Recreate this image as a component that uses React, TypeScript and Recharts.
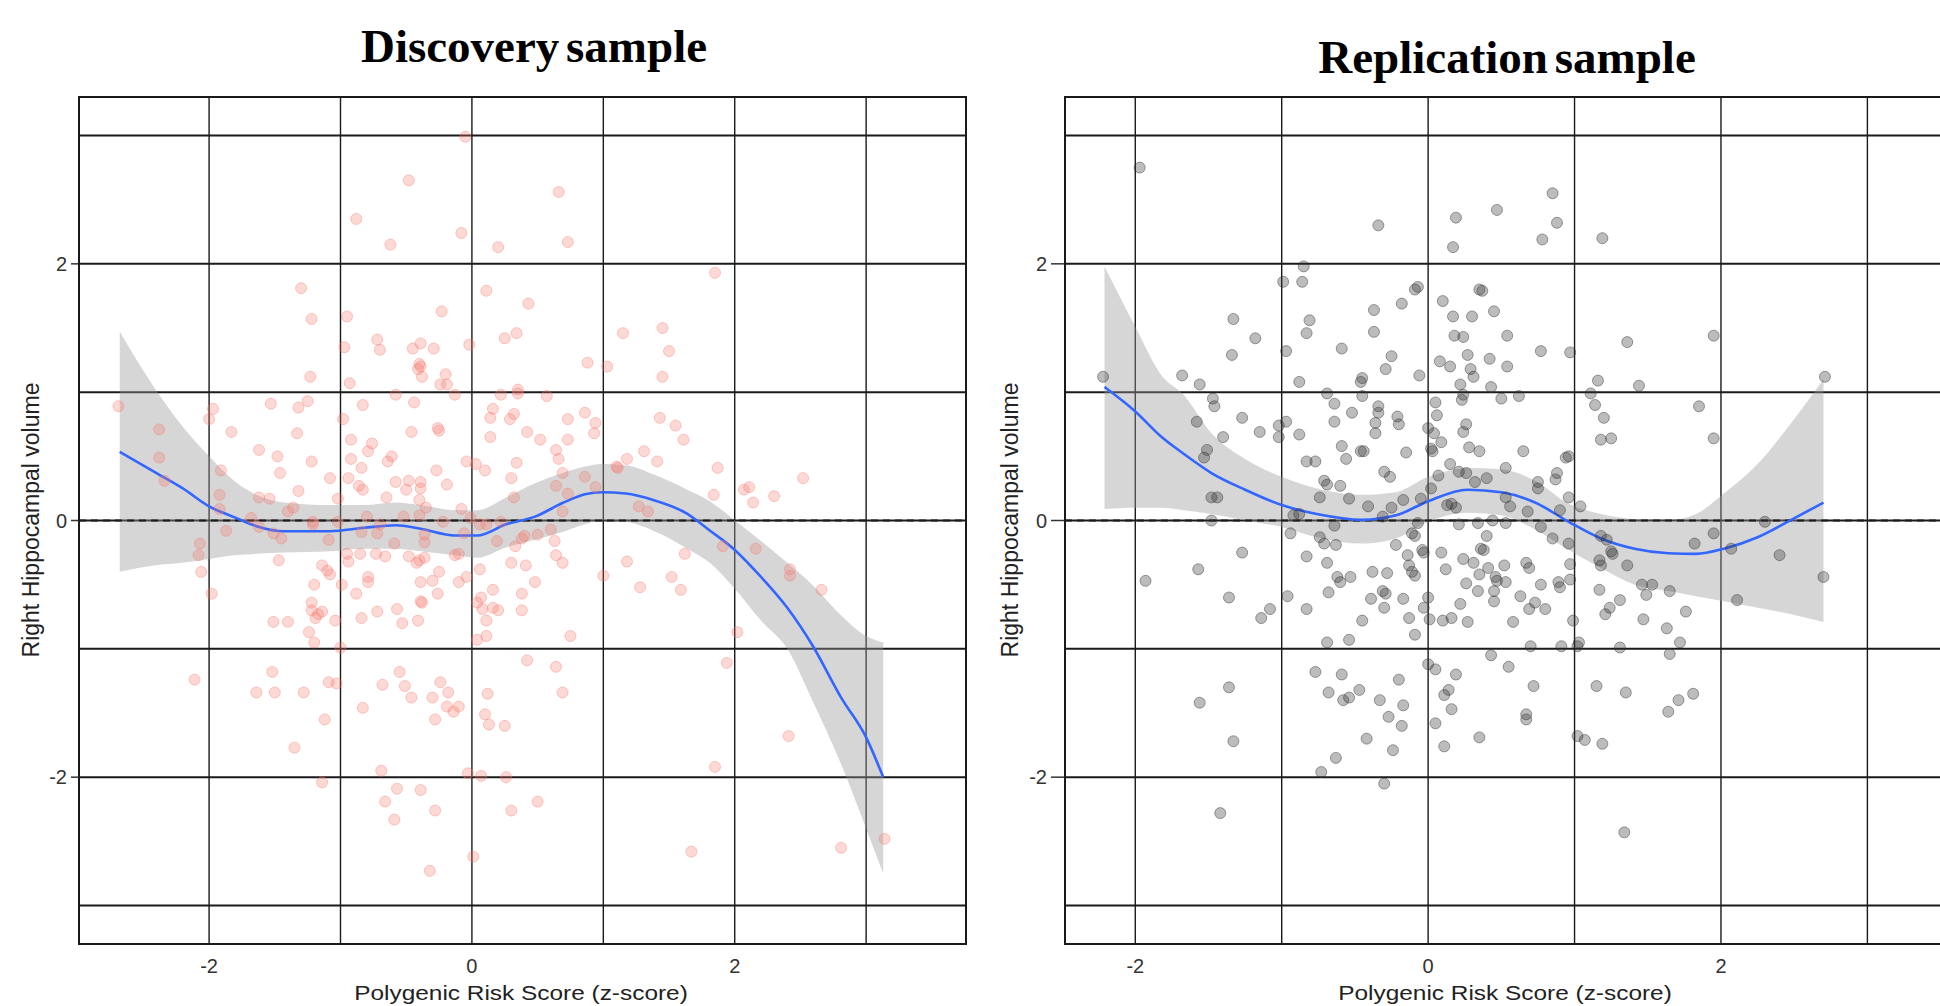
import { ComposedChart, XAxis, YAxis, CartesianGrid, Area, Line, Scatter, ReferenceLine } from 'recharts';

// axis ticks and grid positions
const xTicks = [-2, 0, 2];
const yTicks = [-2, 0, 2];
const gridX = [-2, -1, 0, 1, 2, 3];
const gridY = [-3, -2, -1, 0, 1, 2, 3];

// Discovery sample: raw points [PRS z-score, right hippocampal volume]
const discPoints: [number, number][] = [
  [-0.05, 2.99], [-0.48, 2.65], [0.66, 2.56], [-0.88, 2.35], [-0.08, 2.24], [-0.62, 2.15], [0.2, 2.13], [0.73, 2.17],
  [1.85, 1.93], [-1.3, 1.81], [0.11, 1.79], [0.43, 1.69], [-1.22, 1.57], [-0.95, 1.59], [-0.23, 1.63], [1.15, 1.46],
  [1.45, 1.5], [0.34, 1.46], [0.25, 1.42], [-0.72, 1.41], [-0.97, 1.35], [-0.7, 1.33], [-0.45, 1.34], [-0.39, 1.38],
  [-0.29, 1.34], [-0.02, 1.37], [1.5, 1.32], [0.88, 1.23], [1.03, 1.2], [-0.4, 1.22], [-0.41, 1.18], [-0.39, 1.2],
  [-0.38, 1.12], [-0.2, 1.14], [-1.23, 1.12], [1.45, 1.12], [-0.93, 1.07], [-0.24, 1.06], [-0.19, 1.06], [0.35, 1.02],
  [-2.69, 0.89], [-1.53, 0.91], [-1.32, 0.88], [-1.25, 0.93], [-0.83, 0.9], [-0.58, 0.98], [-0.44, 0.92], [-0.13, 0.98],
  [0.22, 0.98], [0.35, 0.99], [0.57, 0.97], [-1.97, 0.87], [-2.0, 0.79], [-2.38, 0.71], [-1.83, 0.69], [-1.33, 0.68],
  [-0.98, 0.79], [-0.26, 0.72], [-0.25, 0.7], [-0.46, 0.69], [0.16, 0.87], [0.14, 0.8], [0.29, 0.79], [0.32, 0.83],
  [0.73, 0.79], [0.86, 0.84], [0.94, 0.76], [0.93, 0.68], [1.43, 0.8], [1.55, 0.74], [1.61, 0.63], [0.42, 0.69],
  [0.52, 0.63], [0.73, 0.63], [0.14, 0.65], [-0.92, 0.63], [-0.76, 0.6], [-0.79, 0.54], [-2.38, 0.49], [-1.62, 0.55],
  [-1.48, 0.5], [-1.22, 0.46], [-0.92, 0.48], [-0.84, 0.41], [-0.64, 0.46], [-0.61, 0.5], [0.64, 0.55], [0.66, 0.48],
  [1.31, 0.54], [1.18, 0.48], [1.41, 0.46], [-0.04, 0.46], [0.03, 0.44], [0.34, 0.45], [0.1, 0.39], [1.87, 0.41],
  [2.52, 0.33], [-1.91, 0.39], [-1.46, 0.37], [-2.34, 0.31], [-1.08, 0.33], [-0.94, 0.33], [-0.27, 0.39], [-0.48, 0.31],
  [-0.58, 0.3], [-0.39, 0.3], [-0.5, 0.24], [-0.39, 0.25], [-0.86, 0.27], [-0.83, 0.24], [-0.19, 0.28], [0.3, 0.33],
  [0.69, 0.37], [0.86, 0.34], [0.64, 0.27], [1.1, 0.42], [1.11, 0.41], [2.07, 0.24], [2.11, 0.26], [2.14, 0.14],
  [2.3, 0.19], [1.84, 0.2], [-1.32, 0.23], [-1.92, 0.2], [-1.62, 0.18], [-1.54, 0.17], [-1.02, 0.17], [-0.65, 0.18],
  [-0.4, 0.16], [0.32, 0.18], [0.73, 0.21], [0.94, 0.26], [-1.36, 0.1], [-1.4, 0.07], [1.27, 0.11], [1.34, 0.07],
  [-0.35, 0.1], [-0.08, 0.09], [0.69, 0.07], [-1.92, 0.09], [-1.68, 0.02], [-1.21, -0.01], [-1.21, -0.03], [-0.8, 0.03],
  [-0.52, 0.03], [-0.4, 0.04], [-1.02, -0.01], [-0.7, -0.03], [-0.22, -0.01], [-0.01, 0.02], [0.06, -0.03], [0.11, -0.03],
  [0.22, -0.01], [-1.62, -0.05], [-1.87, -0.08], [-1.51, -0.1], [-1.45, -0.14], [-1.09, -0.15], [-0.72, -0.1], [-0.36, -0.11],
  [-0.36, -0.17], [-0.59, -0.18], [-0.84, -0.09], [-0.06, -0.1], [0.19, -0.16], [0.4, -0.12], [0.38, -0.14], [0.5, -0.11],
  [0.6, -0.07], [0.63, -0.16], [-2.07, -0.18], [0.33, -0.2], [-2.08, -0.27], [-2.06, -0.4], [-1.47, -0.31], [-0.95, -0.26],
  [-0.85, -0.26], [-0.94, -0.32], [-0.73, -0.26], [-0.66, -0.28], [-0.48, -0.28], [-0.4, -0.31], [-0.36, -0.29], [-0.42, -0.33],
  [-0.13, -0.27], [-0.1, -0.26], [0.3, -0.33], [0.41, -0.35], [0.64, -0.27], [0.69, -0.33], [1.18, -0.32], [1.62, -0.26],
  [2.16, -0.22], [1.91, -0.2], [-1.14, -0.35], [-1.1, -0.39], [-1.08, -0.42], [-0.25, -0.4], [-0.3, -0.47], [-0.39, -0.48],
  [0.06, -0.38], [-0.04, -0.44], [-0.1, -0.48], [1.0, -0.43], [2.42, -0.38], [2.42, -0.43], [-1.2, -0.5], [-0.99, -0.5],
  [-0.79, -0.44], [-0.79, -0.48], [0.48, -0.48], [1.52, -0.44], [1.59, -0.54], [1.28, -0.52], [2.66, -0.54], [-1.98, -0.57],
  [-0.88, -0.57], [-0.26, -0.57], [0.16, -0.54], [0.38, -0.57], [0.07, -0.6], [0.04, -0.64], [-0.39, -0.63], [-0.38, -0.64],
  [-1.22, -0.64], [-1.22, -0.7], [-1.17, -0.73], [-1.14, -0.71], [-1.19, -0.76], [-0.72, -0.71], [-0.57, -0.69], [-0.84, -0.76],
  [-0.53, -0.8], [-0.41, -0.78], [0.11, -0.78], [0.2, -0.7], [0.16, -0.68], [0.08, -0.69], [0.38, -0.7], [-1.51, -0.79],
  [-1.4, -0.79], [-1.04, -0.78], [-1.24, -0.87], [0.04, -0.93], [0.11, -0.9], [0.75, -0.9], [2.02, -0.87], [-1.2, -0.95],
  [-1.0, -0.99], [-2.11, -1.24], [-1.52, -1.18], [-1.64, -1.34], [-1.5, -1.34], [-1.28, -1.34], [-1.09, -1.26], [-1.03, -1.27],
  [-0.55, -1.18], [-0.68, -1.28], [-0.51, -1.29], [-0.46, -1.38], [-0.24, -1.26], [-0.18, -1.34], [-0.3, -1.38], [-0.19, -1.45],
  [-0.14, -1.49], [-0.1, -1.45], [0.12, -1.35], [0.42, -1.09], [0.64, -1.14], [0.69, -1.34], [1.94, -1.11], [-0.83, -1.46],
  [-1.12, -1.55], [-0.28, -1.55], [0.1, -1.51], [0.13, -1.59], [0.25, -1.6], [-1.35, -1.77], [2.41, -1.68], [-0.69, -1.95],
  [-0.03, -1.97], [0.07, -1.99], [0.26, -2.0], [1.85, -1.92], [-1.14, -2.04], [-0.57, -2.09], [-0.39, -2.1], [-0.66, -2.19],
  [0.5, -2.19], [-0.28, -2.26], [0.3, -2.26], [-0.59, -2.33], [0.01, -2.62], [1.67, -2.58], [2.81, -2.55], [3.14, -2.48],
  [-0.32, -2.73],
];

// Discovery sample: loess fit and its confidence band
const discFitX = [-2.68, -2.42, -2.2, -2.0, -1.81, -1.64, -1.43, -1.08, -0.82, -0.58, -0.39, -0.13, 0.04, 0.26, 0.48, 0.69, 0.86, 0.99, 1.17, 1.38, 1.64, 1.81, 1.99, 2.2, 2.4, 2.59, 2.81, 3.0, 3.13];
const discFit = [0.535, 0.38, 0.25, 0.11, 0.026, -0.044, -0.084, -0.084, -0.057, -0.037, -0.065, -0.117, -0.117, -0.03, 0.03, 0.136, 0.204, 0.22, 0.21, 0.16, 0.052, -0.078, -0.22, -0.44, -0.68, -0.97, -1.38, -1.69, -2.0];
const discHi = [1.47, 1.04, 0.73, 0.5, 0.31, 0.2, 0.14, 0.12, 0.12, 0.14, 0.12, 0.08, 0.08, 0.18, 0.29, 0.37, 0.42, 0.44, 0.43, 0.36, 0.24, 0.15, 0.01, -0.16, -0.33, -0.5, -0.74, -0.9, -0.95];
const discLo = [-0.4, -0.35, -0.33, -0.3, -0.27, -0.26, -0.25, -0.24, -0.22, -0.22, -0.24, -0.27, -0.29, -0.21, -0.15, -0.09, -0.03, 0.0, -0.01, -0.08, -0.22, -0.33, -0.52, -0.78, -1.0, -1.4, -1.9, -2.4, -2.75];

// Replication sample: raw points
const repPoints: [number, number][] = [
  [-1.97, 2.75], [0.85, 2.55], [0.47, 2.42], [0.19, 2.36], [0.88, 2.32], [-0.34, 2.3], [0.78, 2.19], [1.19, 2.2],
  [0.17, 2.13], [-0.85, 1.98], [-0.99, 1.86], [-0.86, 1.86], [-0.07, 1.82], [-0.09, 1.8], [0.35, 1.8], [0.37, 1.79],
  [0.1, 1.71], [-0.18, 1.69], [-0.37, 1.64], [0.17, 1.59], [0.3, 1.59], [0.45, 1.63], [-1.33, 1.57], [-0.81, 1.56],
  [-0.83, 1.46], [-0.37, 1.47], [-1.18, 1.42], [0.18, 1.44], [0.24, 1.43], [0.54, 1.44], [1.36, 1.39], [1.95, 1.44],
  [-1.34, 1.29], [-0.97, 1.32], [-0.59, 1.34], [-0.25, 1.28], [0.77, 1.32], [0.97, 1.31], [0.27, 1.29], [0.42, 1.26],
  [0.08, 1.24], [0.15, 1.2], [0.29, 1.18], [0.54, 1.2], [-0.29, 1.18], [-0.06, 1.13], [-0.45, 1.11], [-0.46, 1.08],
  [0.31, 1.12], [-1.68, 1.13], [-1.56, 1.06], [-2.22, 1.12], [-0.88, 1.08], [0.22, 1.06], [1.16, 1.09], [1.44, 1.05],
  [2.71, 1.12], [0.43, 1.04], [-0.69, 0.99], [-0.45, 0.97], [0.23, 0.94], [0.24, 0.98], [0.05, 0.92], [0.5, 0.95],
  [0.62, 0.97], [1.11, 0.99], [1.14, 0.9], [-1.47, 0.95], [-1.46, 0.89], [1.85, 0.89], [-1.27, 0.8], [-0.64, 0.91],
  [-0.52, 0.84], [-0.34, 0.89], [-0.34, 0.84], [-0.64, 0.77], [-0.36, 0.76], [-0.21, 0.81], [-0.2, 0.75], [0.06, 0.82],
  [0.26, 0.75], [0.24, 0.69], [0.0, 0.72], [1.2, 0.8], [-1.58, 0.77], [-1.02, 0.74], [-1.02, 0.65], [-0.97, 0.77],
  [-1.15, 0.69], [-0.88, 0.67], [-1.4, 0.65], [-0.36, 0.68], [0.04, 0.68], [0.09, 0.61], [1.18, 0.63], [1.25, 0.64],
  [1.95, 0.64], [-0.59, 0.58], [-0.46, 0.54], [-0.44, 0.54], [-0.56, 0.48], [-0.15, 0.53], [0.02, 0.56], [0.03, 0.54],
  [0.28, 0.57], [0.35, 0.54], [0.65, 0.54], [0.94, 0.49], [0.96, 0.5], [-1.51, 0.55], [-1.53, 0.49], [-0.83, 0.46],
  [-0.77, 0.46], [0.15, 0.44], [0.53, 0.41], [-0.3, 0.38], [-0.26, 0.34], [0.21, 0.38], [0.26, 0.37], [0.07, 0.35],
  [0.4, 0.33], [0.32, 0.3], [0.88, 0.37], [0.87, 0.32], [-0.71, 0.31], [-0.69, 0.28], [-0.6, 0.27], [0.02, 0.25],
  [0.75, 0.3], [0.75, 0.25], [-1.48, 0.18], [-1.44, 0.18], [-0.74, 0.18], [-0.54, 0.17], [-0.17, 0.16], [-0.05, 0.17],
  [0.16, 0.13], [0.13, 0.12], [0.19, 0.1], [0.53, 0.18], [0.56, 0.11], [0.96, 0.18], [1.04, 0.11], [-0.25, 0.1],
  [-0.41, 0.11], [0.68, 0.07], [0.9, 0.08], [-0.92, 0.04], [-0.88, 0.05], [-1.48, 0.0], [-0.64, -0.04], [-0.31, 0.03],
  [-0.07, -0.02], [0.21, -0.03], [0.34, -0.02], [0.44, 0.0], [0.53, -0.02], [0.77, -0.05], [2.3, -0.01], [-0.94, -0.1],
  [-0.74, -0.13], [-0.71, -0.18], [-0.63, -0.19], [-0.11, -0.1], [-0.09, -0.12], [0.4, -0.12], [0.85, -0.14], [1.18, -0.12],
  [1.22, -0.15], [1.95, -0.1], [1.82, -0.18], [2.07, -0.22], [2.4, -0.27], [0.96, -0.18], [-1.27, -0.25], [-0.83, -0.28],
  [-0.22, -0.19], [-0.14, -0.27], [-0.04, -0.23], [-0.03, -0.25], [0.09, -0.25], [0.24, -0.3], [0.36, -0.22], [0.38, -0.23],
  [1.36, -0.35], [1.17, -0.31], [1.18, -0.35], [1.26, -0.26], [1.25, -0.24], [-1.57, -0.38], [-0.69, -0.33], [-0.13, -0.35],
  [-0.11, -0.4], [-0.09, -0.43], [0.12, -0.38], [0.31, -0.33], [0.41, -0.37], [0.52, -0.35], [0.67, -0.33], [0.69, -0.37],
  [0.97, -0.34], [-1.93, -0.47], [-0.38, -0.4], [-0.28, -0.41], [-0.62, -0.44], [-0.6, -0.48], [-0.53, -0.44], [0.46, -0.44],
  [0.47, -0.47], [0.53, -0.48], [0.77, -0.5], [0.89, -0.48], [0.9, -0.52], [0.97, -0.46], [0.26, -0.49], [0.35, -0.42],
  [2.7, -0.44], [1.46, -0.5], [1.53, -0.5], [1.65, -0.55], [1.17, -0.54], [-1.36, -0.6], [-0.96, -0.59], [-0.68, -0.56],
  [-0.31, -0.55], [-0.29, -0.57], [-0.39, -0.61], [-0.17, -0.61], [0.0, -0.6], [0.34, -0.55], [0.45, -0.55], [0.45, -0.63],
  [0.63, -0.59], [1.49, -0.58], [1.31, -0.62], [2.11, -0.62], [-1.08, -0.69], [-1.14, -0.76], [-0.83, -0.69], [-0.3, -0.68],
  [-0.03, -0.68], [0.22, -0.65], [0.73, -0.64], [0.69, -0.69], [0.8, -0.69], [1.24, -0.68], [1.21, -0.73], [1.76, -0.71],
  [-0.45, -0.78], [-0.13, -0.76], [0.01, -0.77], [0.1, -0.78], [0.16, -0.76], [0.27, -0.79], [0.58, -0.79], [0.99, -0.78],
  [1.47, -0.77], [-0.09, -0.89], [1.63, -0.84], [-0.69, -0.95], [-0.54, -0.93], [0.7, -0.98], [0.91, -0.98], [1.03, -0.95],
  [1.02, -0.98], [1.72, -0.95], [1.31, -0.99], [1.65, -1.04], [0.0, -1.12], [0.05, -1.16], [0.19, -1.2], [0.43, -1.05],
  [0.55, -1.14], [-0.77, -1.18], [-0.59, -1.2], [-0.2, -1.24], [-1.36, -1.3], [-1.56, -1.42], [-0.68, -1.34], [-0.47, -1.32],
  [-0.58, -1.4], [-0.54, -1.38], [-0.33, -1.4], [-0.17, -1.44], [0.14, -1.32], [0.11, -1.36], [0.16, -1.47], [-0.27, -1.53],
  [-0.18, -1.6], [0.05, -1.58], [0.72, -1.29], [0.67, -1.51], [0.67, -1.55], [1.15, -1.29], [1.35, -1.34], [1.81, -1.35],
  [1.71, -1.4], [1.64, -1.49], [-1.33, -1.72], [-0.42, -1.7], [0.35, -1.69], [-0.24, -1.79], [0.11, -1.76], [1.02, -1.68],
  [1.07, -1.71], [1.19, -1.74], [-0.63, -1.85], [-0.73, -1.96], [-0.3, -2.05], [-1.42, -2.28], [1.34, -2.43],
];

// Replication sample: loess fit and its confidence band
const repFitX = [-2.21, -2.0, -1.82, -1.67, -1.48, -1.25, -1.0, -0.76, -0.45, -0.22, 0.0, 0.27, 0.5, 0.73, 0.96, 1.18, 1.41, 1.64, 1.83, 2.02, 2.25, 2.48, 2.7];
const repFit = [1.04, 0.85, 0.65, 0.52, 0.37, 0.24, 0.12, 0.05, 0.005, 0.04, 0.15, 0.24, 0.22, 0.14, -0.01, -0.14, -0.22, -0.255, -0.26, -0.22, -0.13, 0.005, 0.14];
const repHi = [1.98, 1.51, 1.13, 0.98, 0.68, 0.48, 0.34, 0.25, 0.2, 0.22, 0.34, 0.41, 0.4, 0.31, 0.13, 0.05, 0.01, 0.0, 0.05, 0.21, 0.44, 0.76, 1.1];
const repLo = [0.09, 0.1, 0.1, 0.08, 0.05, 0.0, -0.05, -0.13, -0.18, -0.14, -0.01, 0.06, 0.04, -0.07, -0.23, -0.37, -0.5, -0.55, -0.59, -0.63, -0.68, -0.73, -0.79];

const sans = '"Liberation Sans", Arial, sans-serif';
const tickStyle = { fontSize: 20, fill: '#333', fontFamily: sans };

function Panel(props: any) {
  const { width, yAxisWidth, yTickSize, xDomain, points, fitX, fit, lo, hi, dot } = props;
  const table = fitX.map((x: number, i: number) => ({ x, fit: fit[i], band: [lo[i], hi[i]] }));
  const pts = points.map(([x, y]: [number, number]) => ({ x, y }));
  return (
    <ComposedChart width={width} height={1006} data={table} margin={{ top: 97, right: 14, bottom: 0, left: 0 }}>
      <CartesianGrid horizontal={false} verticalValues={gridX} stroke="#1a1a1a" strokeWidth={1.4} />
      <CartesianGrid vertical={false} horizontalValues={gridY} stroke="#1a1a1a" strokeWidth={2} />
      <XAxis type="number" dataKey="x" domain={xDomain} ticks={xTicks} interval={0} allowDataOverflow
        axisLine={false} tickLine={false} tickMargin={9} height={62} tick={tickStyle} />
      <YAxis type="number" domain={[-3.3, 3.3]} ticks={yTicks} interval={0} allowDataOverflow
        axisLine={false} tickSize={yTickSize} tickMargin={4} width={yAxisWidth} tick={tickStyle}
        tickLine={{ stroke: '#333', strokeWidth: 1.5 }} />
      <Area type="monotone" dataKey="band" stroke="none" fill="#999999" fillOpacity={0.4} isAnimationActive={false} />
      <Scatter data={pts} dataKey="y" isAnimationActive={false}
        shape={(p: any) => (
          <circle cx={p.cx} cy={p.cy} r={5.5} fill={dot.color} fillOpacity={dot.fill}
            stroke={dot.color} strokeOpacity={dot.stroke} strokeWidth={1} />
        )} />
      <ReferenceLine y={0} stroke="#1a1a1a" strokeWidth={2.2} strokeDasharray="7 5" />
      <Line type="monotone" dataKey="fit" stroke="#3366FF" strokeWidth={2.6} dot={false} isAnimationActive={false} />
    </ComposedChart>
  );
}

const abs = (s: any) => ({ position: 'absolute' as const, ...s });

export default function App() {
  const title = { fontFamily: '"Liberation Serif", "Times New Roman", serif', fontWeight: 700, fontSize: 47, lineHeight: '47px', whiteSpace: 'nowrap' as const, wordSpacing: '-5px', color: '#000' };
  const xTitle = { fontFamily: sans, fontSize: 20, lineHeight: '20px', color: '#222', whiteSpace: 'nowrap' as const };
  const yTitle = { fontFamily: sans, fontSize: 23, lineHeight: '23px', color: '#222', whiteSpace: 'nowrap' as const };
  return (
    <div style={abs({ left: 0, top: 0, width: 1940, height: 1006, overflow: 'hidden', background: '#fff' })}>
      <div style={abs({ left: 0, top: 0 })}>
        <Panel width={980} yAxisWidth={79} yTickSize={8} xDomain={[-2.99, 3.76]} points={discPoints}
          fitX={discFitX} fit={discFit} lo={discLo} hi={discHi}
          dot={{ color: '#F8766D', fill: 0.28, stroke: 0.38 }} />
      </div>
      <div style={abs({ left: 980, top: 0 })}>
        <Panel width={979} yAxisWidth={85} yTickSize={14} xDomain={[-2.48, 3.53]} points={repPoints}
          fitX={repFitX} fit={repFit} lo={repLo} hi={repHi}
          dot={{ color: '#333333', fill: 0.33, stroke: 0.45 }} />
      </div>

      <div style={abs({ left: 78, top: 96, width: 889, height: 849, border: '2px solid #1a1a1a', boxSizing: 'border-box', pointerEvents: 'none' })} />
      <div style={abs({ left: 1064, top: 96, width: 884, height: 849, border: '2px solid #1a1a1a', boxSizing: 'border-box', pointerEvents: 'none' })} />

      <div style={abs({ left: 534, top: 23, transform: 'translateX(-50%)', ...title })}>Discovery sample</div>
      <div style={abs({ left: 1507, top: 34, transform: 'translateX(-50%)', ...title })}>Replication sample</div>

      <div style={abs({ left: 521, top: 983, transform: 'translateX(-50%) scaleX(1.22)', ...xTitle })}>Polygenic Risk Score (z-score)</div>
      <div style={abs({ left: 1505, top: 983, transform: 'translateX(-50%) scaleX(1.22)', ...xTitle })}>Polygenic Risk Score (z-score)</div>

      <div style={abs({ left: 31, top: 520, transform: 'translate(-50%, -50%) rotate(-90deg)', ...yTitle })}>Right Hippocampal volume</div>
      <div style={abs({ left: 1010, top: 520, transform: 'translate(-50%, -50%) rotate(-90deg)', ...yTitle })}>Right Hippocampal volume</div>
    </div>
  );
}
